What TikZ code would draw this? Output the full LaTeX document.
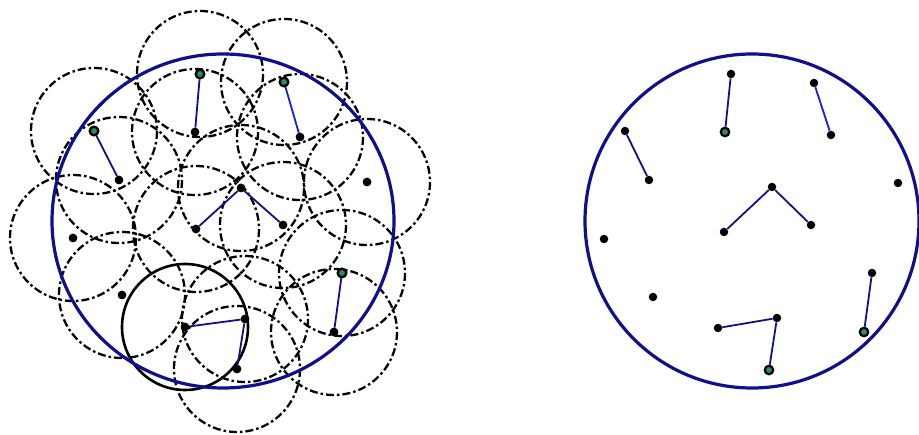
\documentclass[tikz,border=0pt]{standalone}
\usetikzlibrary{calc}
\definecolor{navy}{RGB}{16,16,140}
\definecolor{lblue}{RGB}{20,30,230}
\definecolor{ringfill}{RGB}{40,140,110}
\tikzset{
  x=1pt, y=-1pt,
  sensor/.style={circle, fill=black, inner sep=0pt, minimum size=8.5pt},
  ringsensor/.style={circle, draw=black, fill=ringfill, line width=2.2pt, inner sep=0pt, minimum size=8.5pt},
  sensrange/.style={draw=black, line width=2.3pt, dash pattern=on 8pt off 3pt on 2.5pt off 3pt},
  mainrange/.style={draw=black, line width=2.6pt},
  fieldarea/.style={draw=navy, line width=3.2pt},
  wlink/.style={draw=navy, line width=1.8pt},
  bwlink/.style={draw=lblue, line width=1.8pt},
}
\begin{document}
\begin{tikzpicture}
\useasboundingbox (0,0) rectangle (919,435);
% left: sensor positions
\node[ringsensor] (a1) at (200,74) {};
\node[sensor] (a2) at (195,132) {};
\node[ringsensor] (a3) at (284,82) {};
\node[sensor] (a4) at (300,137) {};
\node[ringsensor] (a5) at (94,131) {};
\node[sensor] (a6) at (119,180) {};
\node[sensor] (a7) at (241,188) {};
\node[sensor] (a8) at (196,229) {};
\node[sensor] (a9) at (283,225) {};
\node[sensor] (a10) at (367,182) {};
\node[sensor] (a11) at (73,238) {};
\node[sensor] (a12) at (122,295) {};
\node[sensor] (a13) at (185,327) {};
\node[sensor] (a14) at (245,319) {};
\node[sensor] (a15) at (237,369) {};
\node[ringsensor] (a16) at (342,273) {};
\node[sensor] (a17) at (334,332) {};
% sensing ranges
\foreach \i in {1,...,12,14,15,16,17}{
  \draw[sensrange] (a\i.center) circle (63);
}
\draw[mainrange] (a13.center) circle (63);
% monitored area
\coordinate (lc) at (223,221);
\draw[fieldarea] (lc) ellipse (171 and 167);
% links
\draw[wlink] (a1) -- (a2);
\draw[bwlink] (a3) -- (a4);
\draw[wlink] (a5) -- (a6);
\draw[wlink] (a7) -- (a8);
\draw[wlink] (a7) -- (a9);
\draw[wlink] (a13) -- (a14);
\draw[wlink] (a14) -- (a15);
\draw[wlink] (a16) -- (a17);
% redraw sensors on top
\foreach \n in {a1,a3,a5,a16}{ \node[ringsensor] at (\n.center) {}; }
\foreach \n in {a2,a4,a6,a7,a8,a9,a10,a11,a12,a13,a14,a15,a17}{ \node[sensor] at (\n.center) {}; }

% right
\coordinate (rc) at (752,221);
\draw[fieldarea] (rc) circle (167);
\node[sensor] (b1) at (731,74) {};
\node[ringsensor] (b2) at (725,132) {};
\node[sensor] (b3) at (814,83) {};
\node[sensor] (b4) at (831,135) {};
\node[sensor] (b5) at (625,131) {};
\node[sensor] (b6) at (649,180) {};
\node[sensor] (b7) at (772,187) {};
\node[sensor] (b8) at (724,232) {};
\node[sensor] (b9) at (811,225) {};
\node[sensor] (b10) at (898,183) {};
\node[sensor] (b11) at (604,239) {};
\node[sensor] (b12) at (653,297) {};
\node[sensor] (b13) at (718,328) {};
\node[sensor] (b14) at (777,318) {};
\node[ringsensor] (b15) at (769,370) {};
\node[sensor] (b16) at (872,273) {};
\node[ringsensor] (b17) at (864,332) {};
\draw[wlink] (b1) -- (b2);
\draw[bwlink] (b3) -- (b4);
\draw[wlink] (b5) -- (b6);
\draw[wlink] (b7) -- (b8);
\draw[wlink] (b7) -- (b9);
\draw[wlink] (b13) -- (b14);
\draw[wlink] (b14) -- (b15);
\draw[wlink] (b16) -- (b17);
\end{tikzpicture}
\end{document}
